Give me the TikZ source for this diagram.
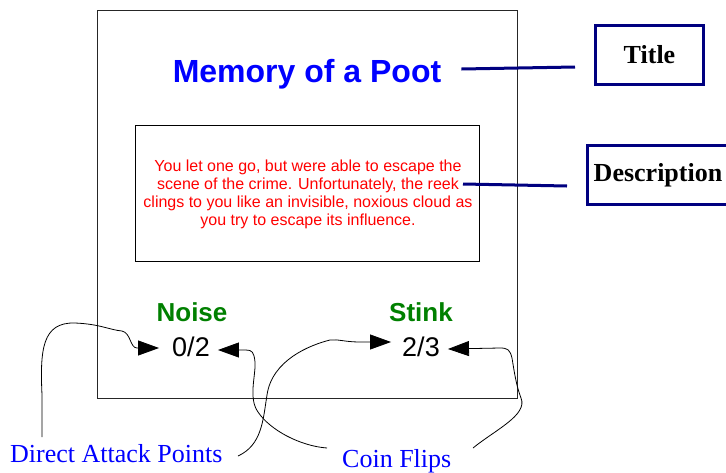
\documentclass[tikz,border=0pt]{standalone}
\usepackage{fontspec}
\setmainfont{Liberation Serif}
\setsansfont{Liberation Sans}
\usetikzlibrary{arrows.meta}
\definecolor{navy}{RGB}{0,0,128}
\definecolor{ttlblue}{RGB}{0,0,255}
\definecolor{descred}{RGB}{255,0,0}
\definecolor{statgreen}{RGB}{0,128,0}
\tikzset{
  card/.style={draw=black!85, line width=1pt},
  descframe/.style={draw=black, line width=0.8pt},
  callout/.style={draw=navy, line width=3pt, inner sep=0pt, font=\fontsize{26}{30}\selectfont\rmfamily\bfseries, text=black},
  navyline/.style={draw=navy, line width=3pt},
  stathead/.style={inner sep=0pt, anchor=base, text=statgreen, font=\fontsize{26}{30}\selectfont\sffamily\bfseries},
  statval/.style={inner sep=0pt, anchor=base, text=black, font=\fontsize{27}{30}\selectfont\sffamily},
  bluelabel/.style={inner sep=0pt, anchor=base west, text=ttlblue, font=\fontsize{26}{30}\selectfont\rmfamily},
  pointer/.style={draw=black, line width=0.8pt, -{Triangle[length=21pt,width=15pt]}},
}
\begin{document}
\begin{tikzpicture}[x=1pt,y=-1pt]
\useasboundingbox (0,0) rectangle (726,472);
% card
\draw[card] (97,10) rectangle (517,398);
\draw[descframe] (135,125) rectangle (479,261);
% title and description
\node[inner sep=0pt, anchor=base, text=ttlblue, font=\fontsize{32}{36}\selectfont\sffamily\bfseries] (ttl) at (307,82) {Memory of a Poot};
\node[inner sep=0pt, align=center, text=descred, font=\fontsize{16}{18}\selectfont\sffamily] (desc) at (308,194)
  {You let one go, but were able to escape the\\scene of the crime. Unfortunately, the reek\\clings to you like an invisible, noxious cloud as\\you try to escape its influence.};
\coordinate (descend) at (463,184);
% callouts
\node[callout, minimum width=108pt, minimum height=59pt] (tbox) at (649.5,55) {Title};
\node[callout, minimum width=141pt, minimum height=59pt] (dbox) at (658,175) {Description};
\draw[navyline] ([xshift=20pt,yshift=13pt]ttl.base east) -- ([xshift=-19pt,yshift=-12pt]tbox.west);
\draw[navyline] (descend) -- ([xshift=-19pt,yshift=-11pt]dbox.west);
% stats
\node[stathead] (noise) at (192,321) {Noise};
\node[stathead] (stink) at (421,321) {Stink};
\node[statval] (nval) at (191,356) {0/2};
\node[statval] (sval) at (421,356) {2/3};
% labels
\node[bluelabel] (dap) at (10,462) {Direct Attack Points};
\node[bluelabel] (coin) at (342,467) {Coin Flips};
\coordinate (dapA) at (42,437);
\coordinate (dapB) at (238,456);
\coordinate (coinA) at (327,448);
\coordinate (coinB) at (473,448);
% pointers
\draw[pointer] (dapA) -- (42,395) .. controls (40,350) and (42,322) .. (75,323)
  .. controls (100,324) and (110,330) .. (122,331)
  .. controls (131,333) and (130,348) .. (137,348) -- ([xshift=-13pt,yshift=8pt]nval.base west);
\draw[pointer] (dapB) .. controls (262,445) and (263,420) .. (267,395)
  .. controls (272,360) and (310,345) .. (330,340)
  .. controls (338,339) and (345,342) .. (360,342) -- ([xshift=-11pt,yshift=14pt]sval.base west);
\draw[pointer] (coinA) .. controls (300,446) and (270,430) .. (258,412)
  .. controls (248,398) and (256,375) .. (255,362)
  .. controls (254,352) and (252,350) .. (246,350) -- ([xshift=8pt,yshift=6pt]nval.base east);
\draw[pointer] (coinB) .. controls (495,430) and (528,415) .. (521,398)
  .. controls (516,385) and (514,370) .. (512,358)
  .. controls (510,350) and (508,348) .. (500,348) -- ([xshift=8pt,yshift=7pt]sval.base east);
\end{tikzpicture}
\end{document}
